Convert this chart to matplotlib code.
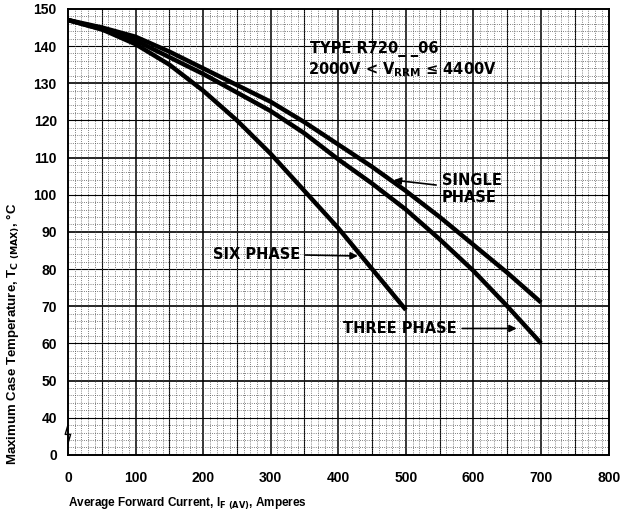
import numpy as np
import matplotlib.pyplot as plt
from matplotlib.ticker import MultipleLocator

plt.rcParams['font.family'] = ['Liberation Sans', 'DejaVu Sans']
plt.rcParams['font.weight'] = 'bold'

# curves (current in A, case temperature in C)
single_i = [0, 50, 100, 150, 200, 250, 300, 350, 400, 450, 500, 550, 600, 650, 700]
single_t = [147, 145, 142.5, 138.5, 134, 129.5, 125, 119.5, 113.5, 107.5, 101, 94, 86.5, 79, 71]
three_i = [0, 50, 100, 150, 200, 250, 300, 350, 400, 450, 500, 550, 600, 650, 700]
three_t = [147, 144.5, 141.5, 137, 132.5, 127.5, 122.5, 116.5, 109.5, 103, 96, 88, 79.5, 70, 60]
six_i = [0, 50, 100, 150, 200, 250, 300, 350, 400, 450, 500]
six_t = [147, 144.5, 140.5, 135, 128, 120, 111, 101, 91, 80, 69]

xticks = [0, 100, 200, 300, 400, 500, 600, 700, 800]
ytick_pos = [30, 40, 50, 60, 70, 80, 90, 100, 110, 120, 130, 140, 150]
ytick_lab = ['0', '40', '50', '60', '70', '80', '90', '100', '110', '120', '130', '140', '150']

fig = plt.figure(figsize=(6.23, 5.21), dpi=100)
ax = fig.add_axes([0.109, 0.127, 0.868, 0.856])

ax.set_xlim(0, 800)
ax.set_ylim(30, 150)
ax.set_xticks(xticks)
ax.set_yticks(ytick_pos)
ax.set_yticklabels(ytick_lab)
ax.xaxis.set_minor_locator(MultipleLocator(10))
ax.yaxis.set_minor_locator(MultipleLocator(2))
ax.tick_params(which='both', length=0)
ax.tick_params(axis='x', pad=12, labelsize=10)
ax.tick_params(axis='y', pad=8, labelsize=10)

# graph-paper grid
ax.grid(which='minor', color='#555555', linestyle=':', linewidth=0.6)
for x in range(50, 800, 50):
    ax.axvline(x, color='black', linewidth=1.1 if x % 100 == 0 else 0.8, zorder=1)
for y in range(40, 150, 10):
    ax.axhline(y, color='black', linewidth=1.2 if y % 20 == 10 else 0.8, zorder=1)
for s in ax.spines.values():
    s.set_linewidth(1.4)

ax.plot(single_i, single_t, color='black', linewidth=3.2, zorder=3, solid_capstyle='butt')
ax.plot(three_i, three_t, color='black', linewidth=3.2, zorder=3, solid_capstyle='butt')
ax.plot(six_i, six_t, color='black', linewidth=3.2, zorder=3, solid_capstyle='butt')

# axis break mark
ax.plot([0, 4, -4, 0], [33, 35.5, 35.5, 38], color='black', linewidth=1, clip_on=False, zorder=4)

lab = dict(fontsize=10.5, fontweight='bold', family=['DejaVu Sans'])
ax.text(358, 138, 'TYPE R720_ _06', **lab)
ax.text(355, 132.3, r'2000V < V$_{\mathbf{RRM}}$ ≤ 4400V', **lab)

arrow = dict(arrowstyle='-|>', color='black', lw=1.2)
ax.annotate('SINGLE\nPHASE', xy=(478, 104), xytext=(553, 101.5), va='center',
            arrowprops=arrow, **lab)
ax.annotate('SIX PHASE', xy=(433, 83.5), xytext=(214, 84), va='center',
            arrowprops=arrow, **lab)
ax.annotate('THREE PHASE', xy=(668, 64), xytext=(407, 64), va='center',
            arrowprops=arrow, **lab)

fig.text(0.021, 0.36, r'Maximum Case Temperature, T$_{\mathbf{C\ (MAX)}}$, °C', fontsize=9.5,
         fontweight='bold', rotation=90, ha='center', va='center')
fig.text(0.109, 0.028, r'Average Forward Current, I$_{\mathbf{F\ (AV)}}$, Amperes', fontsize=8.5,
         fontweight='bold')

fig.savefig('out.png', dpi=100)
